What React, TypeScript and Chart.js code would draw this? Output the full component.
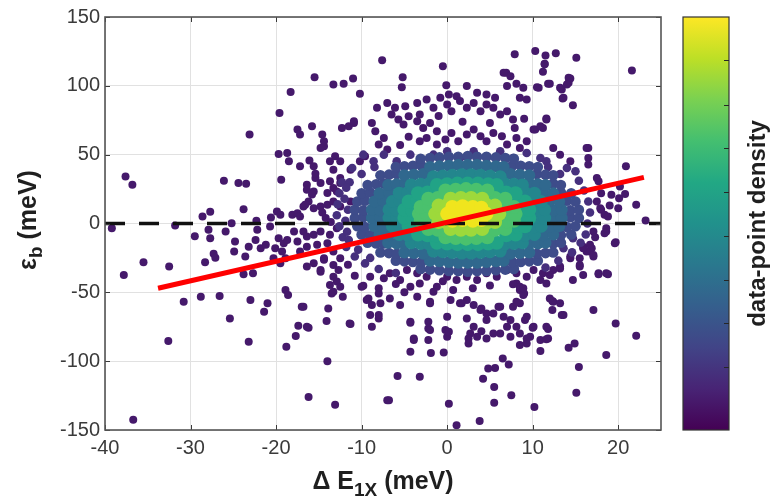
import React, { useEffect, useRef } from 'react';
import { Chart, registerables } from 'chart.js';

Chart.register(...registerables);

type P = [number, number];

// ---- axes ----
const xTickValues = [-40, -30, -20, -10, 0, 10, 20];
const yTickValues = [-150, -100, -50, 0, 50, 100, 150];
const xRange: P = [-40, 25];
const yRange: P = [-150, 150];

// ---- reference lines ----
const fitLine: P[] = [[-33.8, -47], [23, 33.5]];
const zeroLine: P[] = [[-40, 0], [25, 0]];

// ---- colorbar ----
const colorbarTickFractions = [0.153, 0.259, 0.363, 0.47, 0.576, 0.683, 0.788, 0.895];
const viridisStops: [number, string][] = [
  [0, '#440154'], [0.1, '#482475'], [0.2, '#414487'], [0.3, '#355f8d'], [0.4, '#2a788e'],
  [0.5, '#21918c'], [0.6, '#22a884'], [0.7, '#44bf70'], [0.8, '#7ad151'], [0.9, '#bddf26'], [1, '#fde725'],
];

// ---- data points, grouped by density level (low -> high) ----
const sparsePoints: P[] = [
  // left
  [-37.6, 34.2], [-36.8, 28.2], [-39.2, -3.4], [-31.8, -1.5], [-28.6, 5.1], [-27.7, 8.5], [-29.5, -9.3], [-27.9, -4.6],
  [-27.7, -10.7], [-26.1, 31.1], [-24.4, 29.4], [-23.5, 28.9], [-23.8, 10.4], [-23.1, 64.6], [-25.9, -5.8], [-25.2, 0.2],
  [-24.8, -13.1], [-22.3, 2], [-22.2, -4.6], [-22.4, -11.9], [-23.2, -16.8], [-20.6, 4.4], [-19.9, 8.7], [-19.5, 6.3],
  [-19.6, 80.3], [-19.4, 31.8], [-19.7, 50.5], [-18.7, 51.2], [-18.3, 95.6], [-18.5, 45.2], [-17.5, 68.2], [-17.2, 64.6],
  [-17.2, 41.5], [-18.1, 6.3], [-17.5, 7.5], [-17.2, 5.1], [-16.8, 12.4], [-16.2, 16], [-15.6, 23.3], [-16.4, 28.2],
  [-15.4, 33], [-14.8, 29.4], [-15.8, 70.6], [-15.5, 106.3], [-14.6, 64.6], [-14.4, 56.1], [-16.1, 45.7], [-15.6, 41.5],
  [-15.4, 36.2], [-16.4, 24.5], [-15.8, 21.1], [-16.6, 13.6], [-15.6, 11.1], [-14.8, 12.4], [-13.3, 101], [-12.1, 101.5],
  [-11, 105.4], [-10.2, 94.2], [-13.1, 48.8], [-13.3, 39.1], [-12.3, 69.4], [-11.5, 70.6], [-10.9, 73], [-11.3, 39.1],
  [-10.2, 45.2], [-9.6, 48.8], [-13.7, 30.6], [-12.5, 29.4], [-13.3, 25.7], [-12.5, 33], [-13.7, 45.2], [-12.5, 45.2],
  [-14.4, 59.7], [-14.8, 54.8], [-14, 22.1], [-12.9, 23.3], [-14, 13.6], [-13.3, 16], [-12.5, 12.4], [-11.3, 16],
  [-14.2, 4], [-13.6, 1], [-14.6, 8],
  // lower left
  [-37.8, -37.4], [-35.5, -28.2], [-32.5, -31.3], [-32.6, -85.4], [-36.7, -142.5], [-30.8, -56.8], [-28.8, -53.2],
  [-26.6, -52.7], [-28.3, -28.2], [-27.3, -22], [-27.1, -24.8], [-25.4, -69], [-24.9, -20.4], [-23.6, -24], [-23.8, -36.9],
  [-22.7, -36.2], [-23, -55.6], [-23.2, -85.9], [-21.4, -64.1], [-21, -58], [-18.9, -48.3], [-18.6, -51.9], [-18.8, -89.6],
  [-17.7, -81.8], [-17.4, -74.3], [-17, -60.5], [-16.2, -75.7], [-16.2, -126], [-14, -100], [-14.1, -70.9], [-13.9, -61.7],
  [-13.5, -50.8], [-13.1, -131.6], [-11.4, -72.6], [-12.2, -53.2], [-8.8, -75], [-9, -66.5], [-8, -69], [-9.8, -45.2],
  [-9.4, -55.6], [-7.8, -58], [-8, -47.1], [-7, -128.4], [-21.8, -18], [-21.2, -15.5], [-20.7, -2.2], [-19.7, -10.7],
  [-19.1, -14.3], [-18.7, -11.9], [-20.1, -18], [-19.3, -20.4], [-18.9, -25.3], [-20.3, -25.3], [-19.5, -28.9],
  [-17.9, -5.8], [-16.8, -5.8], [-16.4, -9.5], [-15.6, -8.2], [-14.8, -5.8], [-13.7, -8.2], [-12.9, -3.4], [-17.5, -13.1],
  [-16.4, -16.8], [-17.2, -20.4], [-15.2, -15.5], [-14, -14.3], [-13.3, -20.4], [-14.4, -25.3], [-12.5, -25.3],
  [-13.3, -30.1], [-14.8, -35], [-13.7, -44.6], [-13.3, -49.5], [-16.4, -31.3], [-14.8, -33.7], [-15.6, -28.9],
  [-14.4, -26.4], [-13.3, -38.6], [-12.9, -42.2], [-12.5, -45.9], [-12.7, -33.7], [-11.3, -73], [-10, -45.9],
  [-9.2, -54.4], [-8.8, -59.2], [-8, -50.8], [-6.7, -54.4], [-5.5, -59.2], [-8, -66.5], [-16.8, -60.5], [-16.4, -75],
  [-10.8, -38], [-11.6, -30],
  // lower centre
  [-4.3, -72.1], [-2.2, -71.4], [-2.2, -76.3], [-2, -58], [-3.9, -83.5], [-3.5, -53.2], [-4.3, -45.9], [-3.2, -43.5],
  [-5.5, -41], [-6.7, -36.2], [-7.4, -39.8], [-9, -38.6], [-4.7, -33.7], [-3.5, -36.2], [-2.4, -38.6], [-1.2, -45.9],
  [-1.6, -49.5], [0, -67.7], [0.4, -55.6], [0.7, -48.3], [1.5, -58], [2.3, -55.6], [3.1, -59.2], [4, -61.7], [4.6, -65.3],
  [5.4, -65.3], [6.2, -60.5], [6.6, -67.7], [7.4, -70.1], [8.1, -75], [7.7, -60.5], [8.5, -58], [9.3, -67.7], [10.1, -75],
  [11.6, -75], [11.8, -83.5], [9.7, -82.3], [10.9, -84.7], [0, -38.6], [1.1, -41], [2.3, -38.6], [3.5, -41], [4.6, -36.2],
  [5.8, -38.6], [7, -33.7], [8.1, -36.2], [9.3, -38.6], [10.1, -33.7], [11.2, -36.2], [12.4, -33.7], [13.2, -31.3],
  [14.4, -24], [15.9, -16.8], [16.7, -20.4], [15.5, -31.3], [17.1, -24], [15.9, -37.4], [17.7, -36.2], [18.6, -36.2],
  [8.5, -48.3], [8.9, -51.9], [8.1, -43.5], [12.4, -56.8], [13.2, -58], [13.6, -66.5], [17.1, -62.9], [2.3, -69],
  [3.1, -75], [3.5, -82.3], [2.7, -79.9], [4.6, -70.1], [7, -75], [6.2, -79.9], [7.4, -82.3], [8.5, -79.9], [9.3, -87.2],
  [0, -82.3], [-0.2, -77.4], [-2.2, -84.7], [22.1, -81.6], [19.7, -72.6], [18.6, -95.6], [15.4, -104.2], [15.1, -122.9],
  [14.9, -87.2], [14.2, -90.3], [13.4, -66.5], [12.3, -56.3], [12.3, -62.9], [11.8, -76.7], [11.6, -84], [10.9, -92.7],
  [10.2, -133.3], [10, -75.7], [9.3, -83.5], [9.1, -70.1], [8.5, -88.3], [7.5, -124.8], [7.2, -102.5], [6.5, -98.1],
  [5.6, -104.9], [4.8, -105.4], [5.5, -118.7], [5.5, -130.2], [4.2, -112.7], [3.8, -143.5], [1.1, -146.6], [0.2, -130.9],
  [0.2, -78.7], [2.5, -83.5], [2.5, -87.2], [4, -78.2], [4.6, -83.5], [5.4, -79.9], [-0.4, -93.7], [-1.9, -94],
  [-4.3, -93.2], [-3.9, -84.7], [-4.3, -71.4], [-2, -77.4], [-3.2, -111.4], [-5.8, -110.7], [-6.8, -128.4], [-2, -56.8],
  [1.7, -58], [3.9, -62.9], [6, -60.5], [8.1, -56.8], [9, -50.8], [8.5, -45.9], [7.7, -44.2], [17.7, -36.9], [18.8, -36.9],
  [16.9, -18], [17.1, -22.8], [19.6, -14.3], [12, -37.4], [10.9, -41], [8.9, -47.1], [11.6, -43.5], [12, -54.4],
  [14.7, -41], [-6, -44], [-5, -50], [5, -45], [3, -47], [-0.5, -42],
  // right
  [21.6, 111.2], [16.5, 54.8], [16.5, 47.6], [16.5, 42.8], [20.9, 41.5], [17.7, 30.6], [19.2, 20.9], [20.8, 21.4],
  [20.1, 18.4], [22.1, 13.6], [20, 11.1], [23.2, 2.2], [19, 13.1], [18, 10], [18.6, -5.8], [19.7, -13.6], [20.2, 26.9],
  [17.5, 33], [18.4, 6.3], [18.8, 5.1], [17.5, 16], [17.9, 11.1], [18.4, -7.1], [18.6, -3.4], [17.1, -5.8], [16.7, -15.5],
  [16.3, -20.4], [15.9, -18], [15.5, -25.3], [15.5, -30.1], [13.2, -32.6], [14.4, -25.3], [17.3, -10], [18, 22],
  // top cloud
  [-7.6, 118.5], [-0.5, 114.3], [-5.2, 106.3], [-5.3, 99], [7.9, 122.9], [10.3, 125.3], [11.5, 122.1], [12.7, 123.6],
  [15.1, 120.4], [11.4, 116], [11.2, 110.2], [6.9, 109.5], [7.4, 107], [14.4, 105.4], [14.2, 102.2], [13.4, 97.4],
  [11.8, 101.5], [10.7, 98.6], [7, 99.8], [8.1, 101.5], [8.5, 91.3], [9.3, 90.1], [13.5, 90.8], [14.7, 85.9], [11.6, 76.3],
  [11.2, 69.4], [10.1, 68.2], [7.9, 69.4], [-0.1, 100.5], [0.2, 93.7], [1.1, 92.5], [2.3, 99.8], [3.5, 94.9], [4.6, 93.7],
  [5.6, 91.3], [6.6, 109.5], [8.9, 98.6], [11.4, 115.6], [10.5, 99], [12, 101.5], [13.2, 98.6], [14.2, 105.8], [14, 101],
  [13.6, 91.3], [-8.2, 84], [-7, 87.6], [-6.1, 84], [-4.9, 85.2], [-6.5, 79.2], [-5.7, 75.5], [-4.5, 77.9], [-5.1, 71.9],
  [-3.5, 87.6], [-3.2, 79.2], [-2.4, 90.1], [-1.6, 84], [-0.8, 91.3], [0, 86.5], [0.5, 81.6], [1.5, 88.9], [2.3, 84],
  [3.1, 87.6], [3.9, 81.6], [4.6, 86.5], [5.4, 84], [6.2, 79.2], [7, 81.6], [7.7, 75.5], [-8.8, 73], [-8.4, 67],
  [-7.4, 62.1], [-8, 57.3], [-7, 53.7], [-10.9, 74.3], [-3.5, 74.3], [-2.8, 69.4], [-2, 73], [-1.2, 67], [-2.4, 62.1],
  [-3.2, 59.7], [-1.2, 57.3], [-0.2, 61], [0.5, 65.8], [1.3, 59.7], [2.3, 64.6], [3.1, 68.2], [3.9, 63.4], [4.6, 59.7],
  [5.4, 65.8], [6.4, 63.4], [7, 57.3], [8.1, 62.1], [8.5, 54.8], [9.3, 59.7], [10.3, 68.2], [10.9, 70.6], [11.6, 75.5],
  [16.3, 54.8], [12.4, 54.8], [13.2, 50], [14.4, 45.2], [-5.5, 57], [-4.5, 63], [1.8, 74], [5, 73], [9, 76], [-1, 78],
];

const haloPoints: P[] = [
  [-9.8, 50], [-7.4, 50], [-4.3, 50], [-8.6, 45.2], [-5.9, 45.2], [-3.2, 45.2], [-1.6, 50], [0, 52.4], [1.5, 47.6],
  [3.1, 52.4], [4.6, 48.8], [6.2, 52.4], [7.7, 47.6], [9.3, 51.2], [10.9, 47.6], [11.6, 45.2], [14, 40.3], [-11.1, 40.3],
  [-12.3, 30], [-12.6, 22], [-12.8, 14], [-12.9, 6], [-12.6, -2], [-12.2, -10], [-11.8, -17], [-10.8, -24], [-9.6, -29],
  [-8, -33], [-6, -36], [16.4, 0], [16.7, 8], [16.5, 16], [16, 24], [15.4, 31], [16.2, -8], [15.6, -14], [14.6, -21],
  [13, -27], [11.5, -32], [-10, 36], [-8.5, 41], [-11.4, 30], [-11.7, -6], [13.2, 36], [11.8, 41], [-11.8, 26],
  [-12, 18], [-11.6, 10], [-11.9, 2], [-11.5, -12], [-10.4, -19], [-9, -25], [15, 38], [14.7, -10.7], [13.6, -18],
];

const densityLevel2: P[] = [
  [-3.1, -33], [-2, -33.5], [-0.9, -34], [0.2, -34.5], [1.3, -34.5], [2.4, -35], [3.5, -34.5], [4.6, -34.5], [5.7, -34],
  [6.8, -33.5], [7.8, -33], [-6, -27], [-5, -27.5], [-4, -28], [-3, -28], [7.6, -28], [8.6, -28], [9.6, -27.5], [10.6, -27],
  [-7.8, -21], [-6.8, -21.5], [-5.9, -22], [10.5, -22], [11.5, -21.5], [12.4, -21], [-9.3, -14], [-8.3, -14.5],
  [-7.4, -14.5], [12.4, -14.5], [13.3, -14], [-10, -8], [-9, -8.5], [13.3, -8.5], [14.5, -8], [-10.5, -2], [-9.6, -2.5],
  [14, -2.5], [15, -2], [-10.8, 4], [-9.8, 4.5], [14.4, 4.5], [15.4, 4], [-10.8, 10], [-9.8, 9.5], [14.4, 9.5], [15.4, 10],
  [-10.5, 16], [-9.6, 16.5], [14, 16.5], [15, 16], [-10, 22], [-9, 22.5], [13.3, 22.5], [14.5, 22], [-9.3, 28], [-8.3, 28.5],
  [-7.4, 29], [12.4, 29], [13.3, 28], [-7.8, 35], [-6.8, 35.5], [-5.9, 36], [10.5, 36], [11.5, 35.5], [12.4, 35], [-6, 41],
  [-5, 41.5], [-4, 42], [-3, 42], [7.6, 42], [8.6, 42], [9.6, 41.5], [10.6, 41], [-3.1, 47], [-2, 47.5], [-0.9, 48],
  [0.2, 48.5], [1.3, 48.5], [2.4, 49], [3.5, 48.5], [4.6, 48.5], [5.7, 48], [6.8, 47.5], [7.8, 47],
];

const densityLevel3: P[] = [
  [-2, -27], [-0.9, -27.5], [0.2, -28], [1.3, -28.5], [2.4, -28.5], [3.5, -28.5], [4.6, -28], [5.7, -27.5], [6.6, -27],
  [-5, -21], [-3.9, -21.5], [-2.8, -22], [7.4, -22], [8.5, -21.5], [9.6, -21], [-6.9, -14], [-5.9, -14.5], [-4.9, -14.5],
  [9.6, -14.5], [10.6, -14.5], [11.5, -14], [-7.9, -8], [-6.8, -8.5], [11.2, -8.5], [12.4, -8], [-8.5, -2], [-7.5, -2.5],
  [12, -2.5], [13.1, -2], [-8.8, 4], [-7.8, 4.5], [12.4, 4.5], [13.4, 4], [-8.8, 10], [-7.8, 9.5], [12.4, 9.5], [13.4, 10],
  [-8.5, 16], [-7.5, 16.5], [12, 16.5], [13.1, 16], [-7.9, 22], [-6.8, 22.5], [11.2, 22.5], [12.4, 22], [-6.9, 28],
  [-5.9, 28.5], [-4.9, 29], [9.6, 29], [10.6, 28.5], [11.5, 28], [-5, 35], [-3.9, 35.5], [-2.8, 36], [7.4, 36], [8.5, 35.5],
  [9.6, 35], [-2, 41], [-0.9, 41.5], [0.2, 42], [1.3, 42.5], [2.4, 42.5], [3.5, 42.5], [4.6, 42], [5.7, 41.5], [6.6, 41],
];

const densityLevel4: P[] = [
  [-1.6, -20], [-0.5, -20.5], [0.6, -21], [1.7, -21.5], [2.8, -21.5], [3.9, -21], [5, -20.5], [6.2, -20], [-4.2, -14],
  [-3.1, -14.5], [-2.1, -15], [6.7, -15], [7.8, -14.5], [8.8, -14], [-5.6, -8], [-4.6, -8.5], [9.1, -8.5], [10.2, -8],
  [-6.4, -2], [-5.5, -2.5], [10.1, -2.5], [11, -2], [-6.8, 4], [-5.9, 4.5], [10.5, 4.5], [11.4, 4], [-6.8, 10], [-5.9, 9.5],
  [10.5, 9.5], [11.4, 10], [-6.4, 16], [-5.5, 16.5], [10.1, 16.5], [11, 16], [-5.6, 22], [-4.6, 22.5], [9.1, 22.5],
  [10.2, 22], [-4.2, 28], [-3.1, 28.5], [-2.1, 29], [6.7, 29], [7.8, 28.5], [8.8, 28], [-1.6, 34], [-0.5, 34.5], [0.6, 35],
  [1.7, 35.5], [2.8, 35.5], [3.9, 35], [5, 34.5], [6.2, 34],
];

const densityLevel5: P[] = [
  [-1.2, -14], [0, -14.5], [1.2, -15], [2.4, -15], [3.6, -15], [4.8, -14.5], [5.8, -14], [-3.4, -8], [-2.3, -8.5],
  [-1.3, -8.5], [6.9, -8.5], [8, -8], [-4.5, -2], [-3.5, -2.5], [8.3, -2.5], [9.1, -2], [-5, 4], [-4.1, 4.5], [8.8, 4.5],
  [9.6, 4], [-5, 10], [-4.1, 9.5], [8.8, 9.5], [9.6, 10], [-4.5, 16], [-3.5, 16.5], [8.3, 16.5], [9.1, 16], [-3.4, 22],
  [-2.3, 22.5], [-1.3, 23], [5.9, 22.5], [6.9, 22.5], [8, 22], [-1.2, 28], [0, 28.5], [1.2, 29], [2.4, 29], [3.6, 29],
  [4.8, 28.5], [5.8, 28],
];

const densityLevel6: P[] = [
  [-0.2, -10], [1, -10.5], [2.2, -11], [3.4, -10.5], [4.7, -10], [-2.2, -4], [-1.1, -4.5], [-0.3, -5], [5.6, -4.5],
  [6.8, -4], [-3.1, 2], [-2.1, 1.5], [7, 1.5], [7.8, 2], [-3.3, 7], [-2.4, 7.5], [7.2, 7.5], [8, 7], [-3.1, 12],
  [-2.1, 12.5], [7, 12.5], [7.8, 12], [-2.2, 18], [-1.1, 18.5], [5.6, 18.5], [6.8, 18], [-0.2, 24], [1, 24.5], [2.2, 25],
  [3.4, 24.5], [4.7, 24],
];

const densityLevel7: P[] = [
  [0.4, -4], [1.6, -4.5], [2.8, -4.5], [4.1, -4], [-1, 1], [0, 0.5], [4.6, 0.5], [5.6, 1], [-1.4, 7], [-0.5, 6.5],
  [5.2, 6.5], [6.1, 7], [-1, 13], [0, 13.5], [4.6, 13.5], [5.6, 13], [0.4, 18], [1.6, 18.5], [2.8, 18.5], [4.1, 18],
];

const densityLevel8: P[] = [
  [0, 7], [1.2, 7.5], [2.4, 7], [3.6, 7.5], [4.6, 7], [0.6, 2], [1.8, 2.5], [3, 2], [4, 2.5], [0.6, 12], [1.8, 12.5],
  [3, 12], [4, 11.5],
];

const layers = [
  { label: 'level 0', points: sparsePoints, color: '#45196b', radius: 4 },
  { label: 'level 1', points: haloPoints, color: '#46307e', radius: 4.3 },
  { label: 'level 2', points: densityLevel2, color: '#3e4c8a', radius: 5.3 },
  { label: 'level 3', points: densityLevel3, color: '#30688e', radius: 6 },
  { label: 'level 4', points: densityLevel4, color: '#23868d', radius: 6.5 },
  { label: 'level 5', points: densityLevel5, color: '#21a386', radius: 7 },
  { label: 'level 6', points: densityLevel6, color: '#4ac16d', radius: 7 },
  { label: 'level 7', points: densityLevel7, color: '#9dd93b', radius: 7 },
  { label: 'level 8', points: densityLevel8, color: '#f0e51d', radius: 7 },
];

const FONT = '"Liberation Sans", Arial, Helvetica, sans-serif';

type Part = { t: string; size: number; dy: number };

function drawParts(ctx: CanvasRenderingContext2D, parts: Part[], cx: number, baseline: number) {
  let total = 0;
  for (const p of parts) {
    ctx.font = `bold ${p.size}px ${FONT}`;
    total += ctx.measureText(p.t).width;
  }
  let x = cx - total / 2;
  ctx.textAlign = 'left';
  ctx.textBaseline = 'alphabetic';
  for (const p of parts) {
    ctx.font = `bold ${p.size}px ${FONT}`;
    ctx.fillText(p.t, x, baseline + p.dy);
    x += ctx.measureText(p.t).width;
  }
}

const decorPlugin = {
  id: 'decor',
  afterDatasetsDraw(chart: any) {
    const { ctx, chartArea: a, scales } = chart;
    ctx.save();
    ctx.strokeStyle = '#3a3a3a';
    ctx.lineWidth = 1;
    const tl = 5;
    ctx.beginPath();
    for (const v of xTickValues) {
      const px = Math.round(scales.x.getPixelForValue(v)) + 0.5;
      ctx.moveTo(px, a.bottom); ctx.lineTo(px, a.bottom - tl);
      ctx.moveTo(px, a.top); ctx.lineTo(px, a.top + tl);
    }
    for (const v of yTickValues) {
      const py = Math.round(scales.y.getPixelForValue(v)) + 0.5;
      ctx.moveTo(a.left, py); ctx.lineTo(a.left + tl, py);
      ctx.moveTo(a.right, py); ctx.lineTo(a.right - tl, py);
    }
    ctx.stroke();
    ctx.strokeStyle = '#555555';
    ctx.lineWidth = 1.6;
    ctx.strokeRect(a.left, a.top, a.right - a.left, a.bottom - a.top);
    ctx.restore();
  },
  afterDraw(chart: any) {
    const { ctx, chartArea: a } = chart;
    ctx.save();
    ctx.fillStyle = '#1f1f1f';
    // x title
    drawParts(ctx, [
      { t: 'Δ E', size: 25, dy: 0 },
      { t: '1X', size: 19, dy: 7 },
      { t: ' (meV)', size: 25, dy: 0 },
    ], (a.left + a.right) / 2, 489);
    // y title
    ctx.save();
    ctx.translate(36, 220);
    ctx.rotate(-Math.PI / 2);
    drawParts(ctx, [
      { t: 'ε', size: 25, dy: 0 },
      { t: 'b', size: 19, dy: 6 },
      { t: ' (meV)', size: 25, dy: 0 },
    ], 0, 0);
    ctx.restore();

    // colorbar
    const cbL = 683, cbR = 729, cbT = a.top, cbB = a.bottom;
    const g = ctx.createLinearGradient(0, cbB, 0, cbT);
    for (const [f, c] of viridisStops) g.addColorStop(f, c);
    ctx.fillStyle = g;
    ctx.fillRect(cbL, cbT, cbR - cbL, cbB - cbT);
    ctx.strokeStyle = '#333333';
    ctx.lineWidth = 1.2;
    ctx.strokeRect(cbL, cbT, cbR - cbL, cbB - cbT);
    ctx.beginPath();
    for (const f of colorbarTickFractions) {
      const py = Math.round(cbB - f * (cbB - cbT)) + 0.5;
      ctx.moveTo(cbR, py); ctx.lineTo(cbR - 5, py);
    }
    ctx.strokeStyle = '#262626';
    ctx.lineWidth = 1;
    ctx.stroke();

    ctx.save();
    ctx.translate(765, (cbT + cbB) / 2);
    ctx.rotate(-Math.PI / 2);
    ctx.fillStyle = '#1f1f1f';
    ctx.font = `bold 24px ${FONT}`;
    ctx.textAlign = 'center';
    ctx.textBaseline = 'alphabetic';
    ctx.fillText('data-point density', 0, 0);
    ctx.restore();

    ctx.restore();
  },
};

export default function App() {
  const ref = useRef<HTMLCanvasElement | null>(null);

  useEffect(() => {
    if (!ref.current) return;
    const pointSets = layers.map((l, i) => ({
      type: 'scatter' as const,
      label: l.label,
      data: l.points.map(([x, y]) => ({ x, y })),
      backgroundColor: l.color,
      borderWidth: 0,
      pointRadius: l.radius,
      pointHoverRadius: l.radius,
      order: 2 + (layers.length - 1 - i),
    }));
    const chart = new Chart(ref.current, {
      type: 'scatter',
      data: {
        datasets: [
          ...pointSets,
          {
            type: 'line' as const,
            label: 'zero',
            data: zeroLine.map(([x, y]) => ({ x, y })),
            borderColor: '#111111',
            borderWidth: 3.5,
            borderDash: [20, 14],
            pointRadius: 0,
            showLine: true,
            fill: false,
            order: 1,
          },
          {
            type: 'line' as const,
            label: 'fit',
            data: fitLine.map(([x, y]) => ({ x, y })),
            borderColor: '#ff0000',
            borderWidth: 5,
            pointRadius: 0,
            showLine: true,
            fill: false,
            order: 0,
          },
        ] as any,
      },
      options: {
        animation: false,
        responsive: false,
        events: [],
        layout: { padding: { left: 0, right: 110, top: 17, bottom: 0 } },
        plugins: { legend: { display: false }, tooltip: { enabled: false } },
        scales: {
          x: {
            type: 'linear',
            min: xRange[0],
            max: xRange[1],
            afterBuildTicks: (s: any) => { s.ticks = xTickValues.map((v) => ({ value: v })); },
            afterFit: (s: any) => { s.height = 70; },
            grid: { color: '#e1e1e1', lineWidth: 1, drawTicks: false },
            border: { display: false },
            ticks: { font: { family: FONT, size: 20 }, color: '#3a3a3a', padding: 6, maxRotation: 0 },
          },
          y: {
            type: 'linear',
            min: yRange[0],
            max: yRange[1],
            afterBuildTicks: (s: any) => { s.ticks = yTickValues.map((v) => ({ value: v })); },
            afterFit: (s: any) => { s.width = 105; },
            grid: { color: '#e1e1e1', lineWidth: 1, drawTicks: false },
            border: { display: false },
            ticks: { font: { family: FONT, size: 20 }, color: '#3a3a3a', padding: 5 },
          },
        },
      } as any,
      plugins: [decorPlugin],
    });
    return () => chart.destroy();
  }, []);

  return (
    <div style={{ position: 'fixed', left: 0, top: 0, width: 771, height: 500, background: '#ffffff' }}>
      <canvas ref={ref} width={771} height={500} />
    </div>
  );
}
